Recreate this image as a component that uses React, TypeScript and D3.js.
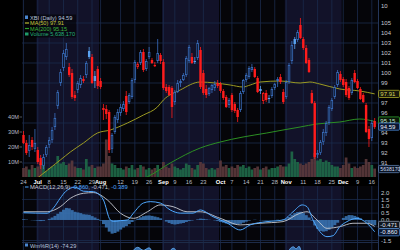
import React from 'react';
import * as d3 from 'd3';

// ---------- DATA ----------
const opens = [93.8,93.0,92.2,93.3,92.4,92.3,91.5,90.7,91.8,92.8,93.3,94.6,96.7,99.0,100.5,101.6,100.6,100.0,97.8,98.3,98.8,99.4,99.8,102.2,101.6,99.7,100.4,99.2,96.3,96.4,96.1,92.4,94.1,95.3,96.0,96.4,97.7,97.1,97.6,99.3,100.6,101.0,102.1,100.4,101.6,101.3,100.7,101.2,101.8,101.1,98.6,98.6,98.5,97.1,98.1,99.0,99.3,99.8,101.2,101.6,101.2,101.5,102.3,100.0,98.4,97.9,98.3,98.5,99.0,98.9,98.2,97.6,96.8,97.8,96.9,96.3,96.3,98.1,99.3,99.6,100.3,100.4,99.5,98.4,97.2,98.0,97.5,97.7,98.5,99.2,99.6,98.1,97.6,99.1,101.2,103.4,103.3,104.8,103.4,102.5,101.3,98.0,97.0,91.8,92.0,93.1,94.0,95.0,96.4,97.6,98.8,99.9,99.4,99.1,98.5,98.0,100.0,99.2,98.4,97.8,96.8,94.4,93.5,95.2];
const highs = [94.2,93.3,93.8,93.6,94.4,92.6,91.8,91.9,92.8,93.6,94.6,96.0,98.3,100.4,102.3,103.0,101.0,100.4,98.2,99.2,99.8,99.7,101.2,102.6,101.9,100.2,100.7,99.5,96.9,96.8,96.3,94.0,95.8,96.4,96.9,97.2,98.2,98.0,99.5,101.3,101.1,102.3,102.4,101.4,102.6,101.5,101.1,103.4,102.0,101.4,98.9,98.8,98.7,98.3,99.3,99.4,100.0,101.7,102.8,102.0,101.6,103.3,102.6,100.3,98.8,98.6,98.9,99.2,99.3,99.1,98.4,97.8,97.5,98.0,97.1,96.5,98.2,99.4,100.0,100.7,100.9,100.6,99.7,98.7,98.1,98.3,97.8,98.6,99.0,99.6,99.9,98.4,99.3,101.0,103.2,103.6,104.3,105.5,103.6,102.8,101.5,98.3,97.2,92.3,93.3,94.4,95.2,96.8,97.5,98.8,100.3,100.2,99.6,99.4,98.7,99.5,100.3,99.4,98.6,98.0,97.0,94.7,95.3,95.5];
const lows = [92.9,91.8,91.6,92.3,92.1,90.9,90.4,90.4,91.6,92.5,93.0,94.3,96.4,98.7,100.2,101.3,99.6,97.4,97.2,98.0,98.5,99.0,99.5,101.4,98.9,98.5,98.4,98.4,95.3,95.4,92.0,92.0,93.9,95.0,95.7,96.2,95.8,96.9,97.4,99.0,100.4,100.8,100.1,100.2,101.4,100.9,100.6,101.0,100.9,98.3,98.0,97.7,95.5,96.8,98.0,98.6,99.2,99.6,101.0,100.9,100.9,101.3,98.4,97.8,97.5,97.7,98.0,98.2,98.5,98.0,97.3,96.5,96.5,96.1,96.0,95.1,96.1,97.9,99.1,99.4,100.1,99.5,98.0,97.9,96.9,97.1,97.0,97.5,98.3,98.6,98.9,96.9,97.4,98.9,100.9,102.4,103.1,103.4,102.3,100.9,100.0,96.9,91.4,91.5,91.8,92.8,93.7,94.8,96.2,97.4,98.6,99.1,98.6,97.6,97.3,97.8,99.0,98.4,97.3,97.0,94.0,92.6,93.2,94.4];
const closes = [93.0,92.0,92.8,92.6,93.0,91.1,90.8,91.6,92.6,93.3,94.3,95.5,98.1,100.1,102.0,102.4,99.8,97.6,97.5,99.0,99.5,99.2,101.0,101.6,99.0,99.2,98.7,98.6,96.5,95.9,92.3,93.8,95.6,96.1,96.6,96.9,96.1,97.8,99.3,101.1,100.9,102.1,100.3,101.2,102.1,101.0,100.8,102.0,101.2,98.5,98.2,97.8,96.6,98.1,99.0,99.2,99.8,101.5,102.6,101.0,101.1,103.0,98.6,98.0,97.8,98.5,98.8,98.9,98.7,98.2,97.5,96.6,97.3,96.3,96.2,95.6,98.0,99.3,99.8,100.5,100.6,99.6,98.1,98.2,98.0,97.3,97.4,98.4,98.9,99.4,99.1,97.1,99.1,100.8,102.8,102.9,104.1,103.5,102.5,101.0,100.1,97.0,91.6,92.0,93.1,94.1,95.0,96.6,97.3,98.6,100.1,99.3,98.8,97.8,97.5,99.3,99.1,98.5,97.4,97.1,94.1,93.4,95.0,94.59];
const prevClose0 = 93.9;
const volumesM = [6,7,5,8,6,7,9,10,4,6,7,8,14,9,10,8,9,11,7,6,6,5,12,7,8,6,7,7,9,25,14,9,8,6,6,5,7,6,8,5,6,8,7,5,6,5,6,8,5,10,7,6,9,7,6,5,6,9,8,6,5,8,10,9,6,5,6,5,6,11,7,8,6,7,6,8,7,8,6,7,5,6,7,5,6,7,5,6,6,7,8,7,7,9,17,12,10,9,8,9,10,12,16,11,12,10,11,10,8,7,7,6,8,13,9,6,7,6,7,8,12,10,8,5.638];
const macdHist = [0.05,0.03,0,-0.02,-0.03,-0.05,-0.08,-0.06,0,0.08,0.18,0.3,0.45,0.6,0.75,0.88,0.85,0.72,0.6,0.55,0.5,0.42,0.4,0.38,0.28,0.18,0.08,-0.05,-0.3,-0.55,-0.85,-1.0,-0.95,-0.85,-0.7,-0.55,-0.45,-0.3,-0.15,-0.02,0.1,0.2,0.28,0.32,0.33,0.3,0.25,0.2,0.12,0,-0.12,-0.22,-0.3,-0.33,-0.3,-0.26,-0.22,-0.15,-0.08,-0.04,0,0.05,0.1,0.08,0.05,0.02,0,-0.03,-0.08,-0.15,-0.2,-0.26,-0.3,-0.33,-0.33,-0.32,-0.28,-0.2,-0.12,-0.05,0,0.02,0,-0.02,-0.03,-0.04,-0.03,-0.02,0,0.02,0,0.03,0.1,0.22,0.38,0.5,0.58,0.6,0.5,0.35,0.18,-0.05,-0.4,-0.65,-0.8,-0.85,-0.82,-0.72,-0.55,-0.38,-0.2,0,0.15,0.28,0.36,0.35,0.3,0.22,0.12,0,-0.12,-0.25,-0.34,-0.389];
const macdIdx = [0,8.3,10.5,12.9,14.7,18,21,24.5,25.9,28,30.4,31.5,34,36.4,38.5,42,44.4,47.9,51.4,54.9,59.4,61.9,66.4,71.3,75.9,79.4,85.3,90.9,94.4,97.6,99.3,101.4,103.8,106.3,108.4,110.8,113.3,116.8,120.3,123];
const macdVal = [0.53,0.49,0.88,1.6,2.07,2.4,2.1,2.07,1.95,1.46,0,-0.1,-0.05,0,0.5,1.24,1.34,1.24,0.73,0.5,0.5,0.73,0.24,-0.22,-0.73,-0.36,-0.12,0,0.6,1.1,0.97,0,-0.85,-1.22,-1.15,-0.49,-0.12,0.12,-0.24,-0.86];
const signalIdx = [0,8.3,12.9,16.4,21,24.5,29.4,34,38.5,43.4,47.9,52.4,57.3,61.9,68.9,75.9,82.9,90.9,96.8,99.3,102.8,106.3,110.8,115.4,120.3,123];
const signalVal = [0.6,0.6,0.97,1.58,1.95,2.0,1.46,0.49,0.12,0.6,1.1,0.97,0.6,0.6,0.12,-0.36,-0.24,-0.12,0.49,0.6,0,-0.61,-0.49,-0.24,-0.24,-0.471];
const ma50Idx = [4,12.9,16.4,21,25.9,30.4,36.4,42,46.9,49,54.9,61.9,67.1,72.4,76.9,79.4,82.9,89.9,96.9,100.3,103.8,110.8,117.8,123];
const ma50Val = [89.3,91.3,92.1,93.0,94.0,94.3,95.0,95.8,96.6,97.3,98.3,99.1,99.0,98.8,98.6,98.8,99.1,99.2,99.0,99.1,98.9,98.4,98.2,97.91];
const ma200Idx = [40,43.3,51.4,61.9,68.9,76.9,85.2,90.9,96.9,102.7,110.8,117.8,123];
const ma200Val = [89.2,89.6,91.0,92.5,93.1,93.6,94.0,94.3,94.6,94.9,95.1,95.4,95.15];
const wrIdx = [0,10,14,20,25,30,36,38,40,42,44,46,50,51,52.5,54,56,60,66,72,80,88,92,93.5,94.5,95.5,96.5,98,100,106,112,118,123];
const wrVal = [-60,-30,-15,-30,-40,-90,-50,-14,-3,-9,-4,-25,-60,-14,-5,-14,-40,-30,-50,-80,-30,-40,-20,-5,-2,-6,-1,-30,-70,-85,-40,-30,-74.29];
const priceTicks = [91,92,93,94,95,96,97,98,99,100,101,102,103,104,105];
const priceGrid = [91,93,95,97,99,101,103,105];
const volTicks = [10,20,30,40];
const macdTicks = [2.0,1.5,1.0,0.5,0.0,-0.5,-1.0,-1.5];
const macdGrid = [1.5,0.5,-0.5,-1.5];
const dateLabels = ['24','Jul','8','15','22','29','Aug','12','19','26','Sep','9','16','23','Oct','7','14','21','28','Nov','11','18','25','Dec','9','16'];
const dateIdx = [0,5,9,14,19,24,27,34,39,44,49,53,58,63,69,73,78,83,88,92,98,103,108,112,117,122];
const monthStartIdx = [0,5,27,49,69,92,112];
const lastPrice = 94.59, lastMa50 = 97.91, lastMa200 = 95.15, lastVolume = 5638170;
const lastMacd = -0.86, lastSignal = -0.471, lastHist = -0.389, lastWr = -74.29;

// ---------- LAYOUT ----------
const W = 400, H = 250;
const PL = 22, PR = 378;
const P_TOP = 0, P_BOT = 177;
const M_TOP = 186, M_BOT = 242;
const R_TOP = 243, R_BOT = 250;
const FONT = 'Liberation Sans, Arial, sans-serif';

const x = d3.scaleLinear().domain([0, 123]).range([23.5, 23.5 + 123 * 2.855]);
const step = x(1) - x(0);
const yP = d3.scaleLinear().domain([91, 105]).range([163, 23]);
const yV = d3.scaleLinear().domain([0, 40]).range([177, 117]);
const yM = d3.scaleLinear().domain([-1.5, 2]).range([240.5, 192.6]);
const yR = d3.scaleLinear().domain([-100, 0]).range([296, 245.8]);

const NAVY = '#121229';
const DARK = '#050509';
const GRID = '#1a2b4c';

export default function App() {
  const n = closes.length;
  const bands = monthStartIdx.map((s, k) => {
    const x0 = k === 0 ? PL : x(s) - step / 2;
    const x1 = k + 1 < monthStartIdx.length ? x(monthStartIdx[k + 1]) - step / 2 : PR;
    return { x0, x1, fill: k % 2 === 1 ? NAVY : DARK };
  });

  const candles = d3.range(n).map(i => {
    const o = opens[i], c = closes[i], h = highs[i], l = lows[i];
    const pc = i === 0 ? prevClose0 : closes[i - 1];
    const up = c >= pc;
    const hollow = c > o;
    return { i, o, c, h, l, up, hollow };
  });

  const lineGen = (xs: number[], vs: number[], ys: d3.ScaleLinear<number, number>) =>
    d3.line<number>().x((_, k) => x(xs[k])).y(v => ys(v)).curve(d3.curveMonotoneX)(vs) || '';

  const wrArea = d3.area<number>().x((_, k) => x(wrIdx[k])).y0(R_BOT + 5).y1(v => yR(v)).curve(d3.curveMonotoneX)(wrVal) || '';

  const bw = 2.4;

  // right-side value boxes (centres)
  const priceBoxes = [
    { y: yP(lastMa50), txt: lastMa50.toFixed(2), stroke: '#a8a828', fill: '#17170a', color: '#d8d860' },
    { y: yP(lastMa200) - 1, txt: lastMa200.toFixed(2), stroke: '#2ea02e', fill: '#0a170a', color: '#d0e8d0' },
    { y: yP(lastPrice) - 0.5, txt: lastPrice.toFixed(2), stroke: '#4a86d0', fill: '#0b1730', color: '#e8f0ff' },
  ];
  const volBox = { y: yV(lastVolume / 1e6) + 0.5, txt: String(lastVolume), stroke: '#5a7aa8', fill: '#0b1424', color: '#d0dcf0' };
  const macdBoxes = [
    { y: yM(lastSignal) - 1.5, txt: lastSignal.toFixed(3), stroke: '#8a96a8', fill: '#101620', color: '#e0e4ec' },
    { y: yM(lastMacd) + 0.5, txt: lastMacd.toFixed(3), stroke: '#4a86d0', fill: '#0b1730', color: '#e8f0ff' },
  ];
  const freeTick = (yy: number, boxes: { y: number }[]) => boxes.every(b => Math.abs(b.y - yy) > 4.2);

  const valueBox = (b: { y: number; txt: string; stroke: string; fill: string; color: string }, key: string, fs = 6) => (
    <g key={key}>
      <rect x={378.5} y={b.y - 3.6} width={21} height={7.2} fill={b.fill} stroke={b.stroke} strokeWidth={0.8} rx={1} />
      <text x={380.3} y={b.y + 2.1} fontSize={fs} fill={b.color} fontFamily={FONT}>{b.txt}</text>
    </g>
  );

  return (
    <div style={{ position: 'fixed', left: 0, top: 0 }}>
      <svg width={W} height={H} viewBox={`0 0 ${W} ${H}`} style={{ display: 'block', background: '#000' }}>
        <defs>
          <clipPath id="pclip"><rect x={PL} y={P_TOP} width={PR - PL} height={P_BOT - P_TOP} /></clipPath>
          <clipPath id="mclip"><rect x={PL} y={M_TOP} width={PR - PL} height={M_BOT - M_TOP} /></clipPath>
          <clipPath id="rclip"><rect x={PL} y={R_TOP} width={PR - PL} height={R_BOT - R_TOP} /></clipPath>
        </defs>
        <rect x={0} y={0} width={W} height={H} fill="#000" />

        {/* panel backgrounds */}
        {[[P_TOP, P_BOT], [M_TOP, M_BOT], [R_TOP, R_BOT]].map(([t, b], pi) =>
          bands.map((bd, k) => (
            <rect key={`bg${pi}-${k}`} x={bd.x0} y={t} width={bd.x1 - bd.x0} height={b - t} fill={bd.fill} />
          ))
        )}

        {/* grid */}
        <g stroke={GRID} strokeWidth={0.8}>
          {dateIdx.map((d, k) => (
            <g key={`vg${k}`}>
              <line x1={x(d)} x2={x(d)} y1={P_TOP} y2={P_BOT} />
              <line x1={x(d)} x2={x(d)} y1={M_TOP} y2={M_BOT} />
              <line x1={x(d)} x2={x(d)} y1={R_TOP} y2={R_BOT} />
            </g>
          ))}
          {priceGrid.map(v => <line key={`hg${v}`} x1={PL} x2={PR} y1={yP(v)} y2={yP(v)} />)}
          {macdGrid.map(v => <line key={`mg${v}`} x1={PL} x2={PR} y1={yM(v)} y2={yM(v)} />)}
        </g>

        {/* volume */}
        <g clipPath="url(#pclip)">
          {candles.map(cd => (
            <rect key={`v${cd.i}`} x={x(cd.i) - 1.35} width={2.7} y={yV(volumesM[cd.i])} height={yV(0) - yV(volumesM[cd.i])}
              fill={cd.up ? '#1f6a48' : '#5c3a3c'} opacity={0.9} />
          ))}
        </g>

        {/* moving averages */}
        <g clipPath="url(#pclip)" fill="none">
          <path d={lineGen(ma200Idx, ma200Val, yP)} stroke="#2c8f23" strokeWidth={1} />
          <path d={lineGen(ma50Idx, ma50Val, yP)} stroke="#9c9a22" strokeWidth={1} />
        </g>

        {/* candles */}
        <g clipPath="url(#pclip)">
          {candles.map(cd => {
            const col = cd.up ? (cd.hollow ? '#3a6fc0' : '#5aa2f0') : '#ff1c1c';
            const top = yP(Math.max(cd.o, cd.c));
            const bot = yP(Math.min(cd.o, cd.c));
            const hgt = Math.max(bot - top, 0.8);
            return (
              <g key={`c${cd.i}`}>
                <line x1={x(cd.i)} x2={x(cd.i)} y1={yP(cd.h)} y2={yP(cd.l)} stroke={col} strokeWidth={0.8} />
                {cd.hollow ? (
                  <rect x={x(cd.i) - bw / 2 + 0.4} y={top + 0.4} width={bw - 0.8} height={Math.max(hgt - 0.8, 0.4)}
                    fill="#06060c" stroke={col} strokeWidth={0.8} />
                ) : (
                  <rect x={x(cd.i) - bw / 2} y={top} width={bw} height={hgt} fill={col} />
                )}
              </g>
            );
          })}
        </g>

        {/* panel right border */}
        <line x1={PR + 0.5} x2={PR + 0.5} y1={0} y2={H} stroke="#24365a" strokeWidth={1} />

        {/* price axis labels */}
        <g fontFamily={FONT} fontSize={6} fill="#c4c8d0">
          <text x={381} y={8}>10</text>
          {priceTicks.filter(v => freeTick(yP(v), [...priceBoxes, volBox])).map(v => (
            <text key={`pt${v}`} x={381} y={yP(v) + 2.2}>{v}</text>
          ))}
        </g>
        {/* volume axis labels */}
        <g fontFamily={FONT} fontSize={5.6} fill="#b8bcc4" textAnchor="end">
          {volTicks.map(v => (
            <g key={`vt${v}`}>
              <text x={19} y={yV(v) + 2}>{`${v}M`}</text>
              <line x1={19.5} x2={22} y1={yV(v)} y2={yV(v)} stroke="#8890a0" strokeWidth={0.6} />
            </g>
          ))}
        </g>

        {/* right value boxes - price */}
        {priceBoxes.map((b, k) => valueBox(b, `pb${k}`))}
        {valueBox(volBox, 'vb', 5.2)}

        {/* legend */}
        <g fontFamily={FONT} fontSize={5.6}>
          <rect x={24} y={14.5} width={52} height={23} fill="#000" opacity={0.55} />
          <rect x={25} y={15.5} width={3} height={3.5} fill="#4a86d0" />
          <text x={30} y={19.5} fill="#b8c4dc">{`XBI (Daily) ${lastPrice.toFixed(2)}`}</text>
          <line x1={25} x2={29} y1={23} y2={23} stroke="#b8b830" strokeWidth={1.2} />
          <text x={30} y={25} fill="#c8c83a">{`MA(50) ${lastMa50.toFixed(2)}`}</text>
          <line x1={25} x2={29} y1={28.5} y2={28.5} stroke="#2ea02e" strokeWidth={1.2} />
          <text x={30} y={30.5} fill="#3cb43c">{`MA(200) ${lastMa200.toFixed(2)}`}</text>
          <rect x={25} y={32.5} width={3.5} height={3} fill="#1f9a6a" />
          <text x={30} y={36} fill="#26b07a">{`Volume ${d3.format(',')(lastVolume)}`}</text>
        </g>

        {/* date axis */}
        <rect x={PL} y={P_BOT} width={PR - PL} height={M_TOP - P_BOT} fill="#000" />
        <g fontFamily={FONT} fontSize={5.8} textAnchor="middle">
          {dateLabels.map((lb, k) => {
            const isMonth = /[A-Za-z]/.test(lb);
            return (
              <text key={`dl${k}`} x={x(dateIdx[k])} y={183.5} fill={isMonth ? '#ffffff' : '#b8bcc4'} fontWeight={isMonth ? 'bold' : 'normal'}>{lb}</text>
            );
          })}
        </g>

        {/* MACD panel */}
        <g clipPath="url(#mclip)">
          {macdHist.map((v, i) => (
            <rect key={`h${i}`} x={x(i) - step / 2} width={step + 0.2} y={Math.min(yM(v), yM(0))} height={Math.abs(yM(v) - yM(0))}
              fill="#3b78b8" opacity={0.85} />
          ))}
          <path d={lineGen(signalIdx, signalVal, yM)} fill="none" stroke="#c8ccd4" strokeWidth={0.9} />
          <path d={lineGen(macdIdx, macdVal, yM)} fill="none" stroke="#4ea8ff" strokeWidth={1} />
        </g>
        <g fontFamily={FONT} fontSize={5.8}>
          <rect x={25} y={186.5} width={3.5} height={1} fill="#4ea8ff" />
          <text x={30} y={189}>
            <tspan fill="#c8ccd4">MACD(12,26,9) </tspan>
            <tspan fill="#4ea8ff">{lastMacd.toFixed(3)}</tspan>
            <tspan fill="#c8ccd4">{`, ${lastSignal.toFixed(3)}, `}</tspan>
            <tspan fill="#4ea8ff">{lastHist.toFixed(3)}</tspan>
          </text>
        </g>
        <g fontFamily={FONT} fontSize={6} fill="#c4c8d0">
          {macdTicks.filter(v => freeTick(yM(v), macdBoxes)).map(v => (
            <text key={`mt${v}`} x={381} y={yM(v) + 2.2}>{v.toFixed(1)}</text>
          ))}
        </g>
        {macdBoxes.map((b, k) => valueBox(b, `mb${k}`))}

        {/* Williams %R panel */}
        <line x1={PL} x2={PR} y1={R_TOP - 0.5} y2={R_TOP - 0.5} stroke="#24365a" strokeWidth={0.8} />
        <g clipPath="url(#rclip)">
          <path d={wrArea} fill="#3b78b8" opacity={0.9} />
          <path d={d3.line<number>().x((_, k) => x(wrIdx[k])).y(v => yR(v)).curve(d3.curveMonotoneX)(wrVal) || ''} fill="none" stroke="#6ab4ff" strokeWidth={0.8} />
        </g>
        <g fontFamily={FONT} fontSize={5.6}>
          <rect x={25} y={243.5} width={3} height={3} fill="#4a86d0" />
          <text x={30} y={247.5} fill="#b8c4dc">{`Wm%R(14) ${lastWr.toFixed(2)}`}</text>
        </g>
      </svg>
    </div>
  );
}
